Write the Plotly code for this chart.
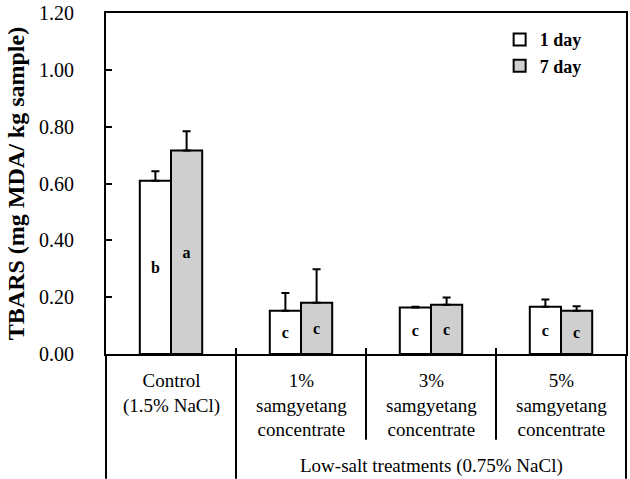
import plotly.graph_objects as go

categories = ["Control<br>(1.5% NaCl)",
              "1%<br>samgyetang<br>concentrate",
              "3%<br>samgyetang<br>concentrate",
              "5%<br>samgyetang<br>concentrate"]
group_label = "Low-salt treatments (0.75% NaCl)"
series_names = ["1 day", "7 day"]
day1_values = [0.610, 0.152, 0.164, 0.166]
day1_errors = [0.033, 0.063, 0.002, 0.026]
day1_letters = ["b", "c", "c", "c"]
day7_values = [0.716, 0.180, 0.173, 0.152]
day7_errors = [0.068, 0.118, 0.026, 0.016]
day7_letters = ["a", "c", "c", "c"]
y_ticks = [0.0, 0.2, 0.4, 0.6, 0.8, 1.0, 1.2]

SERIF = "Liberation Serif"
n = len(categories)
bw = 0.24
centers = [i + 0.5 for i in range(n)]

fig = go.Figure()
for name, vals, errs, letters, color, off in [
    (series_names[0], day1_values, day1_errors, day1_letters, "white", -bw / 2),
    (series_names[1], day7_values, day7_errors, day7_letters, "#cfcfcf", bw / 2),
]:
    fig.add_trace(go.Bar(
        x=[c + off for c in centers], y=vals, width=bw, name=name,
        marker=dict(color=color, line=dict(color="black", width=2)),
        error_y=dict(type="data", array=errs, arrayminus=[0] * n, symmetric=False,
                     color="black", thickness=2, width=4),
        text=letters, textposition="inside", insidetextanchor="middle",
        textangle=0, constraintext="none",
        textfont=dict(family=SERIF, size=16, color="black", weight="bold"),
    ))

W, H = 630, 479
ML, MR, MT, MB = 106, 2, 12, 125
PLOT_H = H - MT - MB
shapes = []
for xp in [0, 1]:
    shapes.append(dict(type="line", xref="paper", yref="paper", x0=xp, x1=xp,
                       y0=0, y1=-MB / PLOT_H, line=dict(color="black", width=2)))
for i in range(1, n):
    bottom = -MB / PLOT_H if i == 1 else -86 / PLOT_H
    shapes.append(dict(type="line", xref="x", yref="paper", x0=i, x1=i,
                       y0=6 / PLOT_H, y1=bottom, line=dict(color="black", width=2)))

annotations = []
for c, lab in zip(centers, categories):
    annotations.append(dict(x=c, y=-14 / PLOT_H, xref="x", yref="paper", text=lab,
                            showarrow=False, yanchor="top", xanchor="center",
                            font=dict(family=SERIF, size=19, color="black")))
annotations.append(dict(x=(1 + n) / 2, y=-99 / PLOT_H, xref="x", yref="paper",
                        text=group_label, showarrow=False, yanchor="top", xanchor="center",
                        font=dict(family=SERIF, size=19, color="black")))

fig.update_layout(
    width=W, height=H,
    margin=dict(l=ML, r=MR, t=MT, b=MB),
    paper_bgcolor="white", plot_bgcolor="white",
    barmode="overlay",
    showlegend=True,
    legend=dict(x=0.757, y=0.976, xanchor="left", yanchor="top",
                font=dict(family=SERIF, size=18, color="black", weight="bold"),
                bgcolor="rgba(0,0,0,0)", tracegroupgap=0, itemwidth=30),
    xaxis=dict(range=[0, n], showgrid=False, zeroline=False, showline=True,
               linecolor="black", linewidth=2, mirror=True,
               tickvals=[], showticklabels=False),
    yaxis=dict(range=[0, 1.2], showgrid=False, zeroline=False, showline=True,
               linecolor="black", linewidth=2, mirror=True,
               tickvals=y_ticks, tickformat=".2f", ticks="inside", ticklen=6,
               tickwidth=2, tickcolor="black", ticklabelstandoff=26,
               ticklabeloverflow="allow",
               tickfont=dict(family=SERIF, size=20, color="black"),
               title=dict(text="TBARS (mg MDA/ kg sample)", standoff=8,
                          font=dict(family=SERIF, size=24, color="black", weight="bold"))),
    shapes=shapes, annotations=annotations,
)
fig.write_html("out.html", config={"displayModeBar": False},
               post_script="document.body.style.margin='0px';")
